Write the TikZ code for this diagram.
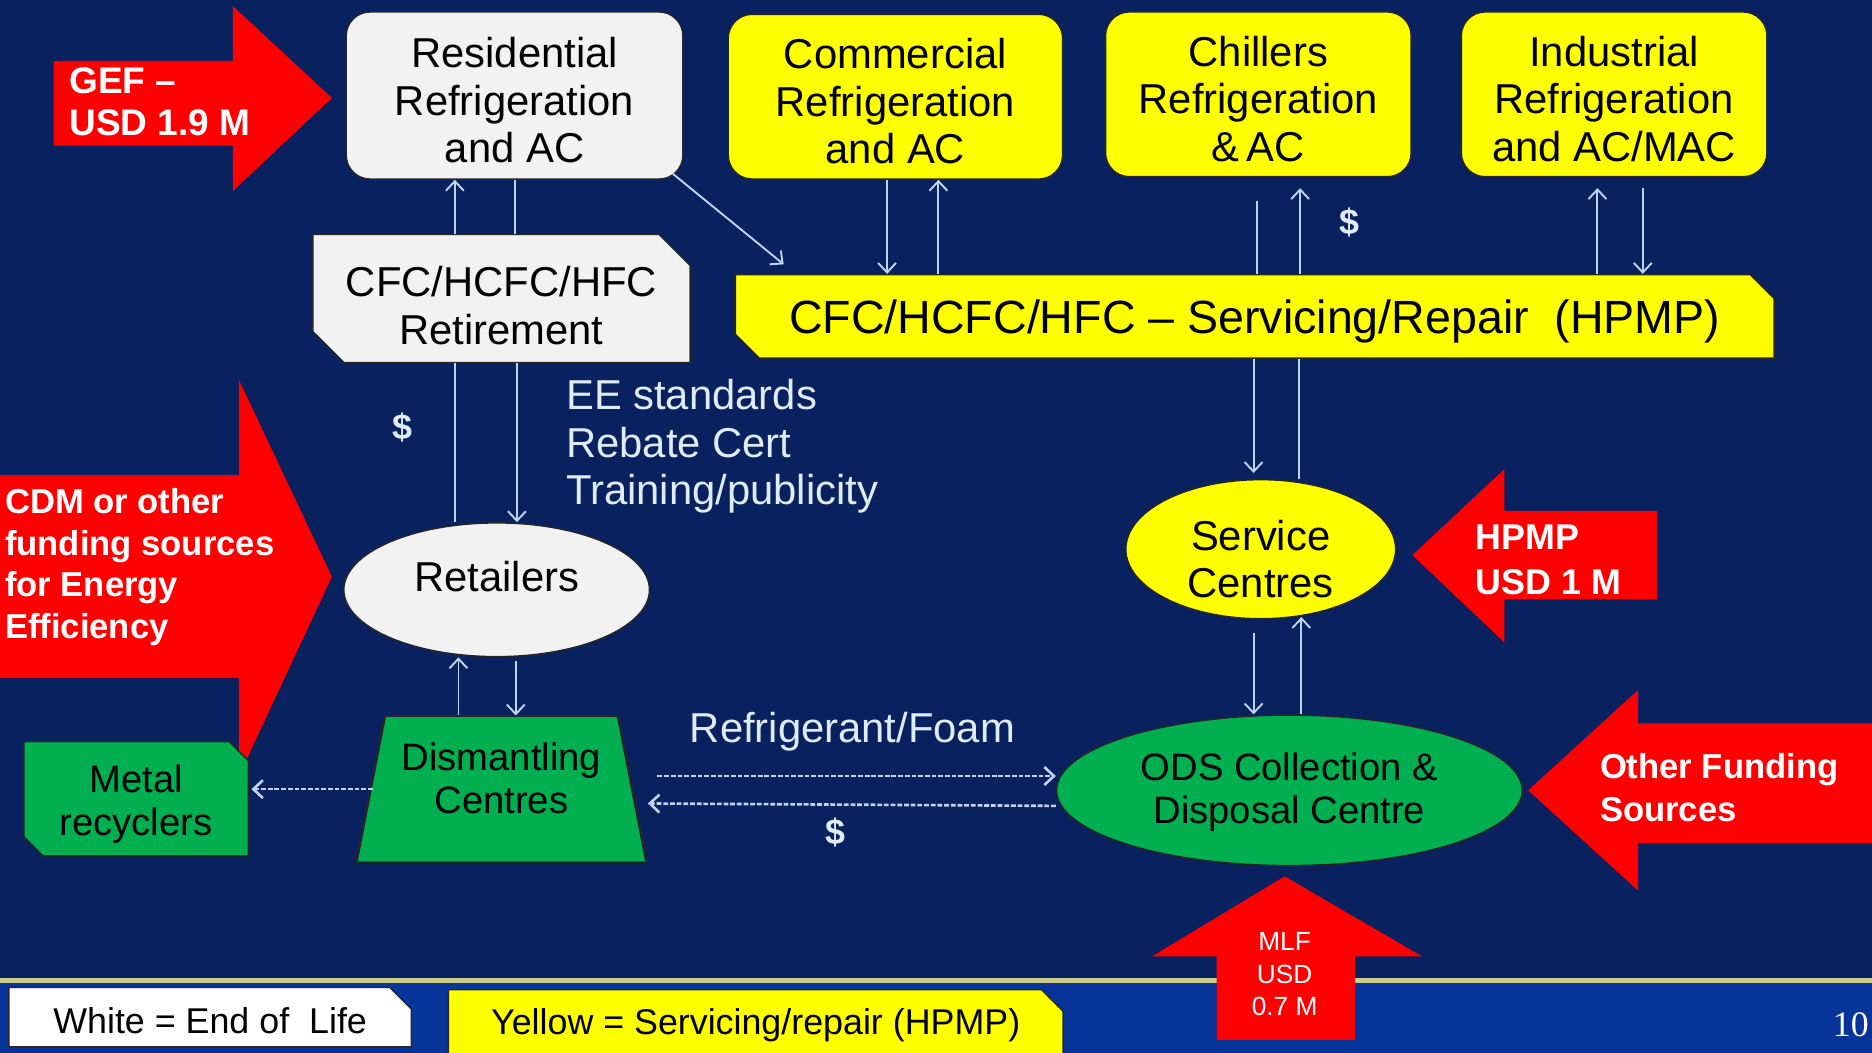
\documentclass[tikz,border=0pt]{standalone}
\usepackage{fontspec}
\setmainfont{Liberation Sans}
\newfontfamily\pgnumfont{Liberation Serif}
\usetikzlibrary{shapes.geometric,shapes.misc,arrows.meta}

\definecolor{bgnavy}{RGB}{10,33,96}
\definecolor{bandblue}{RGB}{6,52,152}
\definecolor{sepline}{RGB}{206,206,140}
\definecolor{wfill}{RGB}{242,242,242}
\definecolor{yfill}{RGB}{255,255,0}
\definecolor{gfill}{RGB}{0,176,80}
\definecolor{rfill}{RGB}{255,0,0}
\definecolor{lnk}{RGB}{190,212,242}
\definecolor{lighttxt}{RGB}{222,236,252}
\newcommand\mytopstrut[1]{\rule{0pt}{#1}}

\begin{document}
\begin{tikzpicture}[x=1pt,y=-1pt,
  >={Straight Barb[length=8pt,width=15pt]},
  conn/.style={draw=lnk,line width=1.6pt},
  dconn/.style={draw=lnk,line width=2.2pt,dash pattern=on 4pt off 1.6pt},
  shp/.style={draw=black!85,line width=1.2pt,align=center,text=black,inner sep=2pt},
  bigtxt/.style={font=\fontsize{35}{40}\selectfont},
  grtxt/.style={font=\fontsize{32}{36}\selectfont},
  wrbox/.style={shp,bigtxt,fill=wfill,rounded corners=20pt},
  yrbox/.style={shp,bigtxt,fill=yfill,rounded corners=20pt},
  chbox/.style={shp,chamfered rectangle,chamfered rectangle corners={north east,south west},
    chamfered rectangle xsep=13pt,chamfered rectangle ysep=13pt},
  ellbox/.style={shp,ellipse,inner sep=0pt},
  fundtxt/.style={text=white,align=left,inner sep=0pt,anchor=west},
  lighttext/.style={text=lighttxt,inner sep=0pt},
  dollar/.style={text=lighttxt,inner sep=0pt,font=\bfseries\fontsize{30}{34}\selectfont},
  redarrow/.style={fill=rfill}
]
\useasboundingbox (0,0) rectangle (1568,882);
\clip (0,0) rectangle (1568,882);

% background
\fill[bgnavy] (0,0) rectangle (1568,882);
\fill[bandblue] (0,823) rectangle (1568,882);
\draw[sepline,line width=4pt] (0,821) -- (1568,821);

% red funding arrows
\fill[redarrow] (45,51) -- (195,51) -- (195,5) -- (278,82) -- (195,160) -- (195,122) -- (45,122) -- cycle;
\node[fundtxt,font=\bfseries\fontsize{31}{35}\selectfont] (gef) at (58,85) {GEF \textendash\\USD 1.9 M};

\fill[redarrow] (0,398) -- (200,398) -- (200,318) -- (278,483) -- (200,650) -- (200,568) -- (0,568) -- cycle;
\node[fundtxt,font=\bfseries\fontsize{29}{35}\selectfont] (cdm) at (4,472) {\mytopstrut{27pt}CDM or other\\funding sources\\for Energy\\Efficiency};

\fill[redarrow] (1183,465) -- (1260,393) -- (1260,428) -- (1388,428) -- (1388,502) -- (1260,502) -- (1260,538) -- cycle;
\node[fundtxt,font=\bfseries\fontsize{30}{38}\selectfont] (hpmp) at (1236,469) {HPMP\\USD 1 M};

\fill[redarrow] (1280,662) -- (1372,578) -- (1372,606) -- (1568,606) -- (1568,706) -- (1372,706) -- (1372,746) -- cycle;
\node[fundtxt,font=\bfseries\fontsize{29}{36}\selectfont] (other) at (1340,660) {Other Funding\\Sources};

% boxes
\node[wrbox,minimum width=282pt,minimum height=140pt] (res) at (431,80) {\mytopstrut{33pt}Residential\\Refrigeration\\and AC};
\node[yrbox,minimum width=280pt,minimum height=138pt] (com) at (750,81) {\mytopstrut{33pt}Commercial\\Refrigeration\\and AC};
\node[yrbox,minimum width=256pt,minimum height=138pt] (chi) at (1054,79) {\mytopstrut{33pt}Chillers\\Refrigeration\\\&\,AC};
\node[yrbox,minimum width=256pt,minimum height=138pt] (ind) at (1352,79) {\mytopstrut{33pt}Industrial\\Refrigeration\\and AC/MAC};

\node[chbox,bigtxt,fill=wfill,minimum width=316pt,minimum height=100pt] (retire) at (420,250) {\mytopstrut{37pt}CFC/HCFC/HFC\\Retirement};
\node[chbox,fill=yfill,font=\fontsize{39}{44}\selectfont,minimum width=870pt,minimum height=70pt,
  chamfered rectangle xsep=10pt,chamfered rectangle ysep=10pt] (serv) at (1051,265)
  {\mytopstrut{36.5pt}CFC/HCFC/HFC \textendash{} Servicing/Repair\ \ (HPMP)};

\node[ellbox,bigtxt,fill=yfill,minimum width=226pt,minimum height=114pt] (sc) at (1056,460) {\mytopstrut{42pt}Service\\Centres};
\node[ellbox,bigtxt,fill=wfill,minimum width=256pt,minimum height=112pt,text depth=22pt] (retl) at (416,494) {Retailers};
\node[ellbox,grtxt,fill=gfill,minimum width=390pt,minimum height=126pt] (ods) at (1080,662) {\mytopstrut{26pt}ODS Collection \&\\Disposal Centre};

\node[align=center,grtxt,text=black,inner sep=0pt,minimum width=243pt,minimum height=123pt,text depth=18pt,
  path picture={
    \fill[gfill] (path picture bounding box.south west) -- (path picture bounding box.south east)
      -- ([xshift=-24pt]path picture bounding box.north east) -- ([xshift=24pt]path picture bounding box.north west) -- cycle;
    \draw[black!85,line width=2pt] (path picture bounding box.south west) -- (path picture bounding box.south east)
      -- ([xshift=-24pt]path picture bounding box.north east) -- ([xshift=24pt]path picture bounding box.north west) -- cycle;
  }] (dis) at (420,661) {Dismantling\\Centres};

\node[chbox,grtxt,fill=gfill,minimum width=188pt,minimum height=94pt,
  chamfered rectangle xsep=8pt,chamfered rectangle ysep=8pt] (metal) at (114,669) {\mytopstrut{33pt}Metal\\recyclers};

% labels
\node[lighttext,align=left,anchor=west,bigtxt] (ee) at (474,370) {\mytopstrut{33pt}EE standards\\Rebate Cert\\Training/publicity};
\node[lighttext,bigtxt] (rf) at (714,613) {Refrigerant/Foam};
\node[dollar] (d1) at (337,358) {\$};
\node[dollar] (d2) at (1130,186) {\$};
\node[dollar] (d3) at (700,697) {\$};

% connectors
\draw[conn,->] ([xshift=-39pt]retire.north) -- ([xshift=-50pt]res.south);
\draw[conn] ([xshift=-35pt]retl.north) -- ([xshift=-39pt]retire.south);
\draw[conn] (res.south) -- ([xshift=11pt]retire.north);
\draw[conn,->] ([xshift=13pt]retire.south) -- ([xshift=17pt]retl.north);
\draw[conn,->] ([xshift=-9pt,yshift=5pt]res.south east) -- ([xshift=41pt,yshift=8pt]serv.north west);

\draw[conn,->] ([xshift=-7pt]com.south) -- ([xshift=-308pt]serv.north);
\draw[conn,->] ([xshift=-265pt]serv.north) -- ([xshift=36pt]com.south);
\draw[conn] ([xshift=-1pt,yshift=-20pt]chi.south) -- ([xshift=2pt]serv.north);
\draw[conn,->] ([xshift=38pt]serv.north) -- ([xshift=35pt,yshift=-9pt]chi.south);
\draw[conn,->] ([xshift=287pt]serv.north) -- ([xshift=-14pt,yshift=-9pt]ind.south);
\draw[conn,->] ([xshift=24pt,yshift=-9pt]ind.south) -- ([xshift=325pt]serv.north);

\draw[conn,->] ([xshift=-1pt]serv.south) -- ([xshift=-6pt,yshift=5pt]sc.north);
\draw[conn] ([xshift=37pt]serv.south) -- ([xshift=32pt]sc.north);
\draw[conn,->] ([xshift=-6pt,yshift=-11pt]sc.south) -- ([xshift=-30pt]ods.north);
\draw[conn,->] ([xshift=10pt]ods.north) -- ([xshift=34pt,yshift=2pt]sc.south);

\draw[conn,->] ([xshift=-36pt]dis.north) -- ([xshift=-32pt]retl.south);
\draw[conn,->] ([xshift=16pt,yshift=-3pt]retl.south) -- ([xshift=12pt]dis.north);

\draw[dconn,->] ([xshift=14pt]dis.west) -- ([xshift=2pt,yshift=8pt]metal.east);
\draw[dconn,->] ([xshift=9pt,yshift=11pt]dis.east) -- ([yshift=12pt]ods.west);
\draw[dconn,->] ([yshift=-13pt]ods.west) -- ([xshift=1pt,yshift=-12pt]dis.east);

% MLF arrow (over the band)
\fill[redarrow] (1076,734) -- (1191,801) -- (1135,801) -- (1135,871) -- (1019,871) -- (1019,801) -- (965,801) -- cycle;
\node[text=white,align=center,inner sep=0pt,font=\fontsize{22}{27.5}\selectfont] (mlf) at (1076,816) {MLF\\USD\\0.7 M};

% legend
\node[shp,chamfered rectangle,chamfered rectangle corners={north east},chamfered rectangle xsep=9pt,chamfered rectangle ysep=9pt,
  fill=white,font=\fontsize{30}{34}\selectfont,minimum width=337pt,minimum height=46pt] (legw) at (176,852) {\mytopstrut{27.5pt}White = End of\ \ Life};
\node[shp,chamfered rectangle,chamfered rectangle corners={north east},chamfered rectangle xsep=9pt,chamfered rectangle ysep=9pt,
  fill=yfill,font=\fontsize{30}{34}\selectfont,minimum width=515pt,minimum height=56pt] (legy) at (633,857) {\mytopstrut{26pt}Yellow = Servicing/repair (HPMP)};
\node[text=white,anchor=west,inner sep=0pt,font=\pgnumfont\fontsize{30}{34}\selectfont] (pg) at (1535,858) {10};
\end{tikzpicture}
\end{document}
